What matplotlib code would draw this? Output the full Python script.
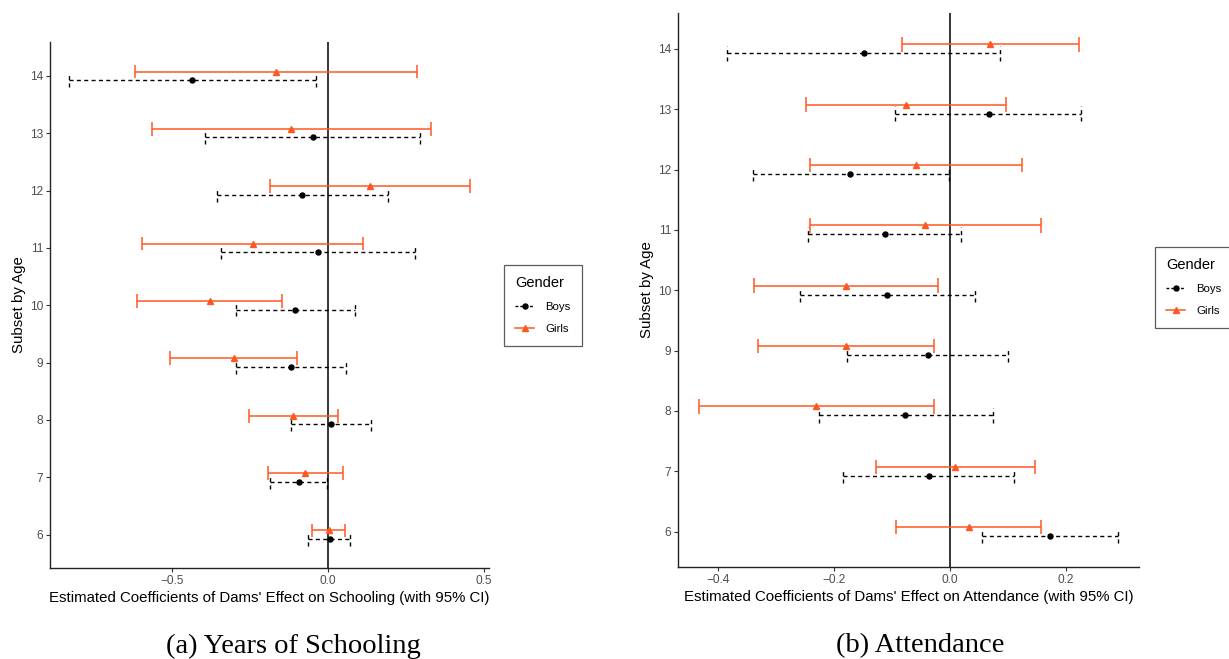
import numpy as np
import matplotlib.pyplot as plt
from matplotlib.lines import Line2D

plt.rcParams['font.family'] = ['Liberation Sans', 'DejaVu Sans']

ages = np.array([6, 7, 8, 9, 10, 11, 12, 13, 14])

# (a) years of schooling
school_boys = [0.006, -0.094, 0.009, -0.120, -0.106, -0.033, -0.083, -0.049, -0.435]
school_boys_lo = [-0.063, -0.185, -0.120, -0.295, -0.295, -0.344, -0.356, -0.395, -0.829]
school_boys_hi = [0.072, -0.003, 0.138, 0.057, 0.087, 0.279, 0.191, 0.295, -0.039]
school_girls = [0.004, -0.073, -0.111, -0.302, -0.379, -0.241, 0.134, -0.118, -0.167]
school_girls_lo = [-0.052, -0.191, -0.254, -0.505, -0.611, -0.595, -0.187, -0.564, -0.619]
school_girls_hi = [0.056, 0.047, 0.033, -0.100, -0.146, 0.113, 0.454, 0.330, 0.284]

# (b) attendance
att_boys = [0.173, -0.036, -0.077, -0.038, -0.108, -0.112, -0.172, 0.067, -0.149]
att_boys_lo = [0.056, -0.184, -0.226, -0.177, -0.258, -0.245, -0.340, -0.094, -0.385]
att_boys_hi = [0.291, 0.111, 0.074, 0.101, 0.043, 0.020, -0.001, 0.227, 0.087]
att_girls = [0.033, 0.009, -0.231, -0.180, -0.180, -0.043, -0.059, -0.075, 0.070]
att_girls_lo = [-0.093, -0.128, -0.434, -0.332, -0.339, -0.242, -0.241, -0.248, -0.083]
att_girls_hi = [0.158, 0.147, -0.028, -0.028, -0.021, 0.157, 0.124, 0.097, 0.223]

orange = '#FF5722'
dash = (0, (2.9, 2.4))
off = 0.075   # dodge
cap = 0.12


def panel(ax, b, blo, bhi, g, glo, ghi, xlabel, xlim, xticks, xticklabels):
    yb = ages - off
    yg = ages + off
    ax.axvline(0, color='black', lw=1.1, zorder=1)
    # boys: dashed
    ax.hlines(yb, blo, bhi, color='black', lw=1.0, linestyles=[dash], zorder=2)
    ax.vlines(blo, yb - cap, yb + cap, color='black', lw=1.0, linestyles=[dash], zorder=2)
    ax.vlines(bhi, yb - cap, yb + cap, color='black', lw=1.0, linestyles=[dash], zorder=2)
    ax.plot(b, yb, 'o', color='black', ms=3.6, zorder=3)
    # girls: solid
    ax.hlines(yg, glo, ghi, color=orange, lw=1.1, zorder=2)
    ax.vlines(glo, yg - cap, yg + cap, color=orange, lw=1.1, zorder=2)
    ax.vlines(ghi, yg - cap, yg + cap, color=orange, lw=1.1, zorder=2)
    ax.plot(g, yg, '^', color=orange, ms=4.5, zorder=3)

    ax.set_xlim(*xlim)
    ax.set_ylim(5.42, 14.59)
    ax.set_yticks(ages)
    ax.set_xticks(xticks)
    ax.set_xticklabels(xticklabels)
    for s in ['top', 'right']:
        ax.spines[s].set_visible(False)
    for s in ['left', 'bottom']:
        ax.spines[s].set_color('#222222')
        ax.spines[s].set_linewidth(1.0)
    ax.tick_params(axis='both', colors='#333333', labelcolor='#4D4D4D',
                   labelsize=8.6, length=3, width=0.8, pad=2)
    ax.set_xlabel(xlabel, fontsize=10.8, labelpad=3)
    ax.set_ylabel('Subset by Age', fontsize=10.8, labelpad=3)


fig = plt.figure(figsize=(12.29, 6.59), dpi=100)

ax1 = fig.add_axes([0.0407, 0.1381, 0.3572, 0.7982])
panel(ax1, school_boys, school_boys_lo, school_boys_hi,
      school_girls, school_girls_lo, school_girls_hi,
      "Estimated Coefficients of Dams' Effect on Schooling (with 95% CI)",
      (-0.891, 0.516), [-0.5, 0.0, 0.5], ['\u22120.5', '0.0', '0.5'])

ax2 = fig.add_axes([0.5519, 0.1401, 0.3751, 0.8398])
panel(ax2, att_boys, att_boys_lo, att_boys_hi,
      att_girls, att_girls_lo, att_girls_hi,
      "Estimated Coefficients of Dams' Effect on Attendance (with 95% CI)",
      (-0.469, 0.327), [-0.4, -0.2, 0.0, 0.2], ['\u22120.4', '\u22120.2', '0.0', '0.2'])

handles = [
    Line2D([], [], color='black', ls=(0, (2.0, 1.5)), lw=1.0, marker='o', ms=3.6),
    Line2D([], [], color=orange, lw=1.1, marker='^', ms=4.5),
]
for loc in [(504 / 1229, 1 - 265 / 659), (1155 / 1229, 1 - 247 / 659)]:
    leg = fig.legend(handles, ['Boys', 'Girls'], title='Gender', loc='upper left',
                     bbox_to_anchor=loc, borderaxespad=0, frameon=True, fancybox=False,
                     edgecolor='#333333', fontsize=8.2, title_fontsize=10.5,
                     handlelength=1.6, handletextpad=1.0, labelspacing=1.05,
                     borderpad=1.0, alignment='left')
    leg.get_frame().set_linewidth(0.9)

fig.text(293 / 1229, 1 - 646 / 659, '(a) Years of Schooling', ha='center', va='center',
         fontsize=20.5, family='Liberation Serif')
fig.text(920 / 1229, 1 - 646 / 659, '(b) Attendance', ha='center', va='center',
         fontsize=20.5, family='Liberation Serif')

fig.savefig('out.png', dpi=100)
